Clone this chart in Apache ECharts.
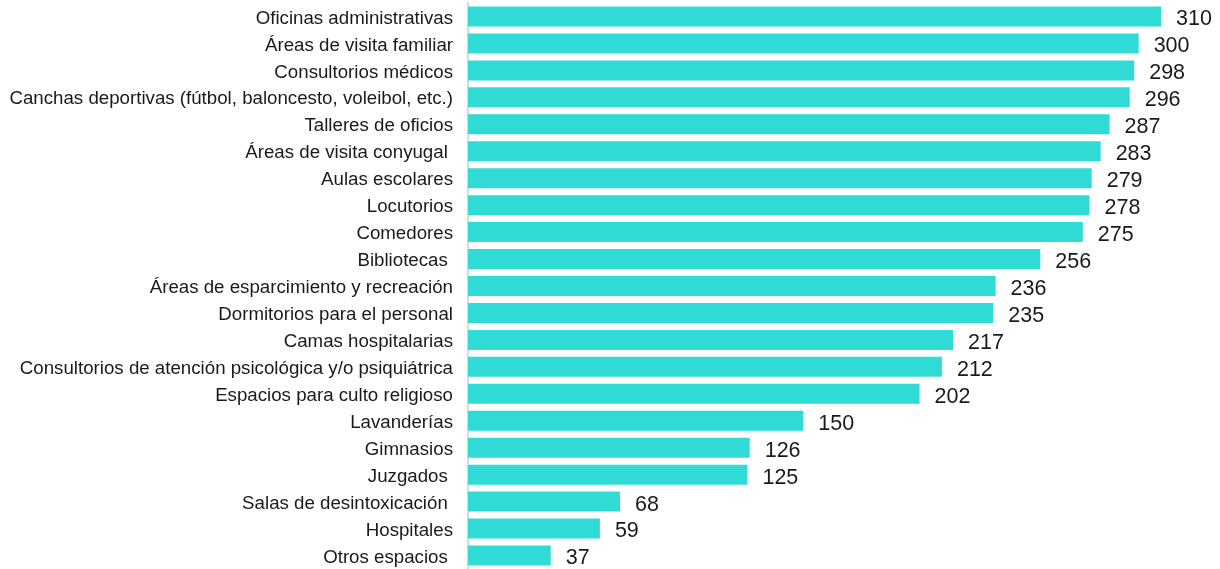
<!DOCTYPE html>
<html>
<head>
<meta charset="utf-8">
<script src="https://cdn.jsdelivr.net/npm/echarts@6/dist/echarts.min.js"></script>
<style>
  html, body { margin: 0; padding: 0; background: #ffffff; }
  #chart { width: 1220px; height: 569px; }
</style>
</head>
<body>
<div id="chart"></div>
<script>
// categories top to bottom
const categories = [
  "Oficinas administrativas",
  "Áreas de visita familiar",
  "Consultorios médicos",
  "Canchas deportivas (fútbol, baloncesto, voleibol, etc.)",
  "Talleres de oficios",
  "Áreas de visita conyugal ",
  "Aulas escolares",
  "Locutorios",
  "Comedores",
  "Bibliotecas ",
  "Áreas de esparcimiento y recreación",
  "Dormitorios para el personal",
  "Camas hospitalarias",
  "Consultorios de atención psicológica y/o psiquiátrica",
  "Espacios para culto religioso",
  "Lavanderías",
  "Gimnasios",
  "Juzgados ",
  "Salas de desintoxicación ",
  "Hospitales",
  "Otros espacios "
];
const values = [310, 300, 298, 296, 287, 283, 279, 278, 275, 256, 236, 235, 217, 212, 202, 150, 126, 125, 68, 59, 37];

const FONT = "'Liberation Sans', Arial, sans-serif";

let chart = echarts.init(document.getElementById("chart"));
let option = {
  animation: false,
  grid: { left: 468, right: 59, top: 3, bottom: -2, containLabel: false },
  xAxis: {
    type: "value",
    min: 0,
    max: 310,
    show: false
  },
  yAxis: {
    type: "category",
    inverse: true,
    data: categories,
    axisLine: { show: true, lineStyle: { color: "#d9d9d9", width: 2 } },
    axisTick: { show: false },
    axisLabel: {
      margin: 15,
      // nudge the text a bit lower, like the original
      formatter: (v) => "{c|" + v + "}",
      rich: {
        c: {
          color: "#1a1a1a",
          fontSize: 18.7,
          fontFamily: FONT,
          padding: [4, 0, 0, 0]
        }
      }
    }
  },
  series: [
    {
      type: "bar",
      data: values,
      barWidth: 20,
      itemStyle: { color: "#30dbd5" },
      label: {
        show: true,
        position: "right",
        distance: 15,
        offset: [0, 3],
        color: "#1a1a1a",
        fontSize: 21.5,
        fontFamily: FONT
      }
    }
  ]
};
option && chart.setOption(option);
</script>
</body>
</html>
